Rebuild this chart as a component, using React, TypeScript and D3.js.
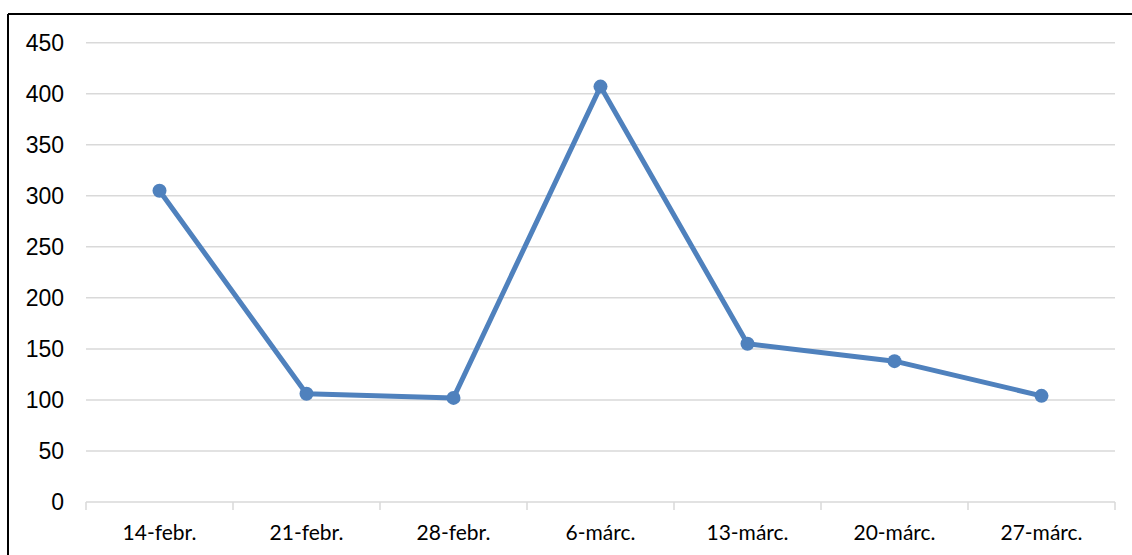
import React from "react";
import * as d3 from "d3";

const categories = ["14-febr.", "21-febr.", "28-febr.", "6-márc.", "13-márc.", "20-márc.", "27-márc."];
const values = [305, 106, 102, 407, 155, 138, 104];
const yTicks = [0, 50, 100, 150, 200, 250, 300, 350, 400, 450];

const W = 1132;
const H = 555;
const left = 86;
const right = 1115;
const top = 42.7;
const bottom = 502;

export default function App() {
  const x = d3.scaleBand<string>().domain(categories).range([left, right]).padding(0);
  const y = d3.scaleLinear().domain([0, 450]).range([bottom, top]);
  const cx = (c: string) => (x(c) as number) + x.bandwidth() / 2;
  const line = d3
    .line<number>()
    .x((_, i) => cx(categories[i]))
    .y((d) => y(d));
  const boundaries = categories.map((c) => x(c) as number).concat([right]);

  return (
    <svg
      width={W}
      height={H}
      style={{ position: "absolute", left: 0, top: 0, background: "#fff" }}
    >
      <rect x={0} y={0} width={W} height={H} fill="#fff" />
      <line x1={8} y1={14} x2={W} y2={14} stroke="#000" strokeWidth={2} />
      <line x1={8} y1={14} x2={8} y2={H} stroke="#000" strokeWidth={2} />
      {yTicks.map((t) => (
        <g key={t}>
          <line x1={left} x2={right} y1={y(t)} y2={y(t)} stroke="#d9d9d9" strokeWidth={1.5} />
          <text
            x={64}
            y={y(t)}
            dy="0.36em"
            textAnchor="end"
            fontFamily="'Liberation Sans', Arial, sans-serif"
            fontSize={23}
            fill="#000"
          >
            {t}
          </text>
        </g>
      ))}
      {boundaries.map((b, i) => (
        <line key={i} x1={b} x2={b} y1={bottom} y2={bottom + 8} stroke="#d9d9d9" strokeWidth={1.5} />
      ))}
      {categories.map((c) => (
        <text
          key={c}
          x={cx(c)}
          y={540}
          textAnchor="middle"
          fontFamily="Lato, 'Open Sans', sans-serif"
          fontSize={21}
          fill="#000"
        >
          {c}
        </text>
      ))}
      <path d={line(values) || ""} fill="none" stroke="#4f81bd" strokeWidth={5} strokeLinejoin="round" />
      {values.map((v, i) => (
        <circle key={i} cx={cx(categories[i])} cy={y(v)} r={7} fill="#4f81bd" />
      ))}
    </svg>
  );
}
